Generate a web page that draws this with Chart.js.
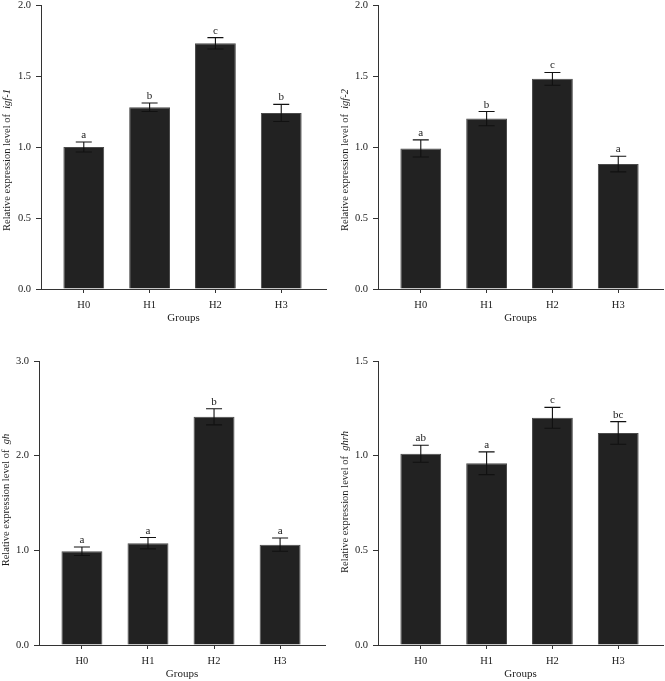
<!DOCTYPE html>
<html>
<head>
<meta charset="utf-8">
<script src="https://cdn.jsdelivr.net/npm/chart.js@4"></script>
<style>
  html,body{margin:0;padding:0;background:#fff;overflow:hidden;}
  #wrap{position:relative;width:665px;height:681px;}
  canvas{position:absolute;}
</style>
</head>
<body>
<div id="wrap">
  <canvas id="c1" width="332" height="340" style="left:0;top:0"></canvas>
  <canvas id="c2" width="333" height="340" style="left:332px;top:0"></canvas>
  <canvas id="c3" width="332" height="341" style="left:0;top:340px"></canvas>
  <canvas id="c4" width="333" height="341" style="left:332px;top:340px"></canvas>
</div>
<script>
// ---- data ----
const groups = ['H0', 'H1', 'H2', 'H3'];

const igf1Mean = [1.00, 1.28, 1.73, 1.24];
const igf1Err = [0.035, 0.03, 0.04, 0.06];
const igf1Letters = ['a', 'b', 'c', 'b'];

const igf2Mean = [0.99, 1.20, 1.48, 0.88];
const igf2Err = [0.06, 0.05, 0.045, 0.055];
const igf2Letters = ['a', 'b', 'c', 'a'];

const ghMean = [0.99, 1.075, 2.41, 1.06];
const ghErr = [0.045, 0.06, 0.085, 0.07];
const ghLetters = ['a', 'a', 'b', 'a'];

const ghrhMean = [1.01, 0.96, 1.20, 1.12];
const ghrhErr = [0.045, 0.06, 0.055, 0.06];
const ghrhLetters = ['ab', 'a', 'c', 'bc'];

const igfTicks = [0, 0.5, 1.0, 1.5, 2.0];
const ghTicks = [0, 1.0, 2.0, 3.0];
const ghrhTicks = [0, 0.5, 1.0, 1.5];

const yTitlePrefix = 'Relative expression level of ';
const xTitle = 'Groups';

// ---- layout / style ----
const SERIF = '"Liberation Serif", "Times New Roman", serif';
const TXT = '#1a1a1a';
const AXIS = '#333333';

const panels = [
  {id:'c1', gene:'igf-1', mean:igf1Mean, err:igf1Err, letters:igf1Letters, ticks:igfTicks,
   left:41, right:326, top:5, bottom:289, titleX:7, titleY:160},
  {id:'c2', gene:'igf-2', mean:igf2Mean, err:igf2Err, letters:igf2Letters, ticks:igfTicks,
   left:46, right:331, top:5, bottom:289, titleX:13, titleY:160},
  {id:'c3', gene:'gh', mean:ghMean, err:ghErr, letters:ghLetters, ticks:ghTicks,
   left:39, right:325, top:21, bottom:305, titleX:6, titleY:160},
  {id:'c4', gene:'ghrh', mean:ghrhMean, err:ghrhErr, letters:ghrhLetters, ticks:ghrhTicks,
   left:46, right:331, top:21, bottom:305, titleX:13, titleY:162}
];

const errorBarPlugin = {
  id: 'errorBars',
  afterDatasetsDraw(chart, args, opts) {
    const {ctx, scales: {x, y}} = chart;
    const P = opts.panel;
    ctx.save();
    ctx.strokeStyle = '#111';
    ctx.lineWidth = 1.1;
    const hw = 8;
    P.mean.forEach((m, i) => {
      const px = x.getPixelForValue(i);
      const yt = y.getPixelForValue(m + P.err[i]);
      const yb = y.getPixelForValue(m - P.err[i]);
      ctx.beginPath();
      ctx.moveTo(px, yt); ctx.lineTo(px, yb);
      ctx.moveTo(px - hw, yt); ctx.lineTo(px + hw, yt);
      ctx.moveTo(px - hw, yb); ctx.lineTo(px + hw, yb);
      ctx.stroke();
      ctx.fillStyle = TXT;
      ctx.font = '11px ' + SERIF;
      ctx.textAlign = 'center';
      ctx.textBaseline = 'alphabetic';
      ctx.fillText(P.letters[i], px, yt - 4);
    });
    ctx.restore();
  }
};

const titlesPlugin = {
  id: 'titles',
  afterDraw(chart, args, opts) {
    const {ctx, chartArea} = chart;
    const P = opts.panel;
    ctx.save();
    ctx.fillStyle = TXT;
    // x title
    ctx.font = '11px ' + SERIF;
    ctx.textAlign = 'center';
    ctx.textBaseline = 'middle';
    ctx.fillText(xTitle, (chartArea.left + chartArea.right) / 2, chartArea.bottom + 29);
    // y title (mixed plain / italic)
    const fPlain = '10.5px ' + SERIF;
    const fItal = 'italic 10.5px ' + SERIF;
    ctx.font = fPlain;
    const w1 = ctx.measureText(yTitlePrefix + ' ').width;
    ctx.font = fItal;
    const w2 = ctx.measureText(P.gene).width;
    const total = w1 + w2;
    ctx.translate(P.titleX, P.titleY);
    ctx.rotate(-Math.PI / 2);
    ctx.textAlign = 'left';
    ctx.font = fPlain;
    ctx.fillText(yTitlePrefix, -total / 2, 0);
    ctx.font = fItal;
    ctx.fillText(P.gene, -total / 2 + w1, 0);
    ctx.restore();
  }
};

panels.forEach(P => {
  const cv = document.getElementById(P.id);
  const W = cv.width, H = cv.height;
  new Chart(cv, {
    type: 'bar',
    data: {
      datasets: [{
        data: P.mean.map((v, i) => ({x: i, y: v})),
        backgroundColor: '#222222',
        borderColor: '#4a4a4a',
        borderWidth: 1,
        categoryPercentage: 1,
        barPercentage: 0.62
      }]
    },
    options: {
      responsive: false,
      animation: false,
      devicePixelRatio: 1,
      layout: {padding: {left: 0, right: W - P.right, top: P.top, bottom: 0}},
      plugins: {
        legend: {display: false},
        tooltip: {enabled: false},
        errorBars: {panel: P},
        titles: {panel: P}
      },
      scales: {
        x: {
          type: 'linear',
          offset: false,
          min: -0.65,
          max: 3.68,
          afterBuildTicks(s) { s.ticks = groups.map((g, i) => ({value: i})); },
          afterFit(s) { s.height = H - P.bottom; s.paddingLeft = 0; s.paddingRight = 0; },
          grid: {offset: false, drawOnChartArea: false, drawTicks: true, tickLength: 4, color: AXIS, lineWidth: 1},
          border: {display: true, color: AXIS, width: 1},
          ticks: {
            autoSkip: false, maxRotation: 0, padding: 6, color: TXT,
            font: {family: SERIF, size: 10.5},
            callback: v => groups[v] !== undefined ? groups[v] : ''
          }
        },
        y: {
          min: P.ticks[0],
          max: P.ticks[P.ticks.length - 1],
          afterBuildTicks(s) { s.ticks = P.ticks.map(v => ({value: v})); },
          afterFit(s) { s.width = P.left; s.paddingTop = 0; s.paddingBottom = 0; },
          grid: {drawOnChartArea: false, drawTicks: true, tickLength: 5, color: AXIS, lineWidth: 1},
          border: {display: true, color: AXIS, width: 1},
          ticks: {
            padding: 5, color: TXT,
            font: {family: SERIF, size: 10.5},
            callback: v => Number(v).toFixed(1)
          }
        }
      }
    },
    plugins: [errorBarPlugin, titlesPlugin]
  });
});
</script>
</body>
</html>
